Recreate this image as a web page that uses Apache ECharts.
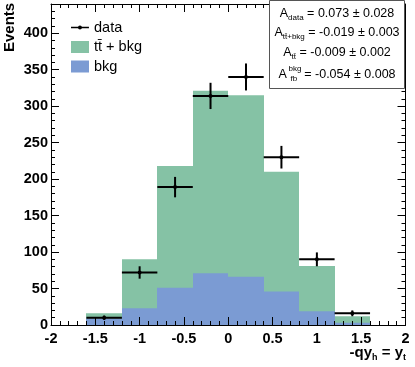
<!DOCTYPE html>
<html>
<head>
<meta charset="utf-8">
<script src="https://cdn.jsdelivr.net/npm/echarts@6/dist/echarts.min.js"></script>
<style>
  html, body { margin: 0; padding: 0; background: #fff; }
  #chart { width: 415px; height: 367px; }
</style>
</head>
<body>
<div id="chart"></div>
<script>
// bin edges
const binLo = [-1.6, -1.2, -0.8, -0.4, 0, 0.4, 0.8, 1.2];
const binHi = [-1.2, -0.8, -0.4, 0, 0.4, 0.8, 1.2, 1.6];
// histograms
const ttbkgVals = [16, 90, 218, 321, 315, 210, 81, 12];
const bkgVals = [9, 23, 51, 71, 66, 46, 19, 3];
// data points + errors
const dataVals = [10, 72, 189, 314, 340, 230, 90, 16];
const dataErr = [3, 8.5, 14, 18, 18.5, 15.5, 9.5, 4];

const FONT = 'Liberation Sans';
const GREEN = '#85c2a5';
const BLUE = '#7b9bd3';
const TTBAR = 'tt\u0304';

const chart = echarts.init(document.getElementById('chart'));

// snap bin edges to whole pixels so neighbouring bins don't show seams
const histRender = (color) => (params, api) => {
  const p0 = api.coord([api.value(0), api.value(2)]);
  const p1 = api.coord([api.value(1), 0]);
  const x0 = Math.round(p0[0]), x1 = Math.round(p1[0]);
  return {
    type: 'rect',
    shape: { x: x0, y: p0[1], width: x1 - x0, height: p1[1] - p0[1] },
    style: { fill: color }
  };
};

const dataRender = (params, api) => {
  const lo = api.value(0), hi = api.value(1), v = api.value(2), e = api.value(3);
  const xc = (lo + hi) / 2;
  const a = api.coord([lo, v]), b = api.coord([hi, v]);
  const c = api.coord([xc, v - e]), d = api.coord([xc, v + e]);
  const m = api.coord([xc, v]);
  return {
    type: 'group',
    children: [
      { type: 'line', shape: { x1: a[0], y1: a[1], x2: b[0], y2: b[1] }, style: { stroke: '#000', lineWidth: 2 } },
      { type: 'line', shape: { x1: c[0], y1: c[1], x2: d[0], y2: d[1] }, style: { stroke: '#000', lineWidth: 2 } },
      { type: 'circle', shape: { cx: m[0], cy: m[1], r: 2 }, style: { fill: '#000' } }
    ]
  };
};

const tickStyle = { show: true, inside: true, length: 8, lineStyle: { color: '#000', width: 1 } };
const minorStyle = { show: true, splitNumber: 5, length: 4, lineStyle: { color: '#000', width: 1 } };
const lineStyle = { show: true, onZero: false, lineStyle: { color: '#000', width: 1 } };
const labelFont = { fontFamily: FONT, fontSize: 14.5, fontWeight: 'bold', color: '#000' };

const dataIcon = 'path://M0,0h0.05v0.05h-0.05Z M18,12h0.05v0.05h-0.05Z M0,5.3h18v1.4h-18Z M11,6A2,2,0,1,1,7,6A2,2,0,1,1,11,6Z';

const subRich = {
  m: { fontFamily: FONT, fontSize: 12.5, color: '#000', lineHeight: 16 },
  s: { fontFamily: FONT, fontSize: 8, color: '#000', lineHeight: 8, verticalAlign: 'bottom' },
  f: { fontFamily: FONT, fontSize: 8, color: '#000', lineHeight: 6, verticalAlign: 'bottom', width: 14 }
};

chart.setOption({
  animation: false,
  backgroundColor: '#fff',
  grid: { left: 51, right: 9.5, top: 4, bottom: 42 },
  xAxis: [
    {
      type: 'value', min: -2, max: 2, interval: 0.5, position: 'bottom', z: 10,
      axisLine: lineStyle, axisTick: tickStyle, minorTick: minorStyle, splitLine: { show: false },
      axisLabel: Object.assign({ margin: 6, formatter: v => String(v) }, labelFont)
    },
    {
      type: 'value', min: -2, max: 2, interval: 0.5, position: 'top', z: 10,
      axisLine: lineStyle, axisTick: tickStyle, minorTick: minorStyle, splitLine: { show: false },
      axisLabel: { show: false }
    }
  ],
  yAxis: [
    {
      type: 'value', min: 0, max: 440, interval: 50, position: 'left', z: 10,
      axisLine: lineStyle, axisTick: tickStyle, minorTick: minorStyle, splitLine: { show: false },
      axisLabel: Object.assign({ margin: 3, showMaxLabel: false, formatter: v => (v % 50 === 0 ? String(v) : '') }, labelFont)
    },
    {
      type: 'value', min: 0, max: 440, interval: 50, position: 'right', z: 10,
      axisLine: lineStyle, axisTick: tickStyle, minorTick: minorStyle, splitLine: { show: false },
      axisLabel: { show: false }
    }
  ],
  legend: {
    orient: 'vertical', left: 66, top: 15,
    itemWidth: 18, itemHeight: 12, itemGap: 4.5,
    textStyle: { fontFamily: FONT, fontSize: 14.5, color: '#000', lineHeight: 12 },
    data: [
      { name: 'data', icon: dataIcon },
      { name: TTBAR + ' + bkg', icon: 'rect' },
      { name: 'bkg', icon: 'rect' }
    ]
  },
  series: [
    {
      name: TTBAR + ' + bkg', type: 'custom', renderItem: histRender(GREEN),
      itemStyle: { color: GREEN }, encode: { x: [0, 1], y: 2 },
      data: binLo.map((lo, i) => [lo, binHi[i], ttbkgVals[i]])
    },
    {
      name: 'bkg', type: 'custom', renderItem: histRender(BLUE),
      itemStyle: { color: BLUE }, encode: { x: [0, 1], y: 2 },
      data: binLo.map((lo, i) => [lo, binHi[i], bkgVals[i]])
    },
    {
      name: 'data', type: 'custom', renderItem: dataRender, z: 5,
      itemStyle: { color: '#000' }, encode: { x: [0, 1], y: 2 },
      data: binLo.map((lo, i) => [lo, binHi[i], dataVals[i], dataErr[i]])
    }
  ],
  graphic: [
    {
      type: 'text', x: 10, y: 52, rotation: Math.PI / 2,
      style: { text: 'Events', fontFamily: FONT, fontSize: 15, fontWeight: 'bold', fill: '#000', align: 'left', verticalAlign: 'middle' }
    },
    {
      type: 'text', x: 406, y: 353,
      style: {
        text: '{m|-qy}{s|h}{m| = y}{s|t}', align: 'right', verticalAlign: 'middle',
        rich: {
          m: { fontFamily: FONT, fontSize: 15, fontWeight: 'bold', color: '#000', lineHeight: 18 },
          s: { fontFamily: FONT, fontSize: 9, fontWeight: 'bold', color: '#000', lineHeight: 9, verticalAlign: 'bottom' }
        }
      }
    },
    {
      type: 'rect', z: 100,
      shape: { x: 269.5, y: 0.5, width: 135, height: 88 },
      style: { fill: '#fff', stroke: '#555', lineWidth: 1 }
    },
    {
      type: 'text', z: 101, x: 337, y: 14,
      style: { text: '{m|A}{s|data}{m| = 0.073 \u00b1 0.028}', align: 'center', verticalAlign: 'middle', rich: subRich }
    },
    {
      type: 'text', z: 101, x: 337, y: 33,
      style: { text: '{m|A}{s|' + TTBAR + '+bkg}{m| = -0.019 \u00b1 0.003}', align: 'center', verticalAlign: 'middle', rich: subRich }
    },
    {
      type: 'text', z: 101, x: 337, y: 53,
      style: { text: '{m|A}{s|' + TTBAR + '}{m| = -0.009 \u00b1 0.002}', align: 'center', verticalAlign: 'middle', rich: subRich }
    },
    {
      type: 'text', z: 101, x: 337, y: 75,
      style: { text: '{m|A}{f|fb}{m| = -0.054 \u00b1 0.008}', align: 'center', verticalAlign: 'middle', rich: subRich }
    },
    {
      type: 'text', z: 101, x: 288.5, y: 68.5,
      style: { text: 'bkg', fontFamily: FONT, fontSize: 8, fill: '#000', align: 'left', verticalAlign: 'middle' }
    }
  ]
});
</script>
</body>
</html>
